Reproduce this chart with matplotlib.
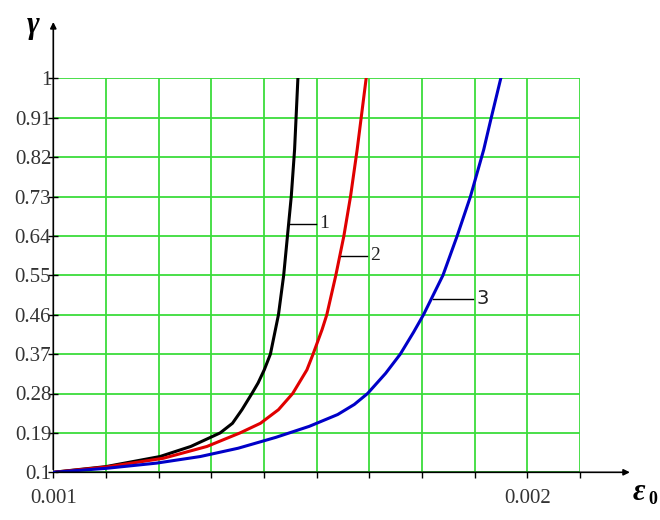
import matplotlib.pyplot as plt
import numpy as np

# strain values in units of 1e-3
black_x = [1.000, 1.111, 1.225, 1.290, 1.352, 1.378, 1.398, 1.419, 1.432, 1.445, 1.458, 1.475, 1.486, 1.494, 1.502, 1.509, 1.516]
black_y = [0.100, 0.113, 0.136, 0.159, 0.190, 0.212, 0.243, 0.280, 0.304, 0.334, 0.370, 0.460, 0.550, 0.640, 0.730, 0.837, 1.000]

red_x = [1.000, 1.111, 1.232, 1.324, 1.394, 1.437, 1.475, 1.505, 1.535, 1.548, 1.567, 1.577, 1.596, 1.613, 1.627, 1.641, 1.660]
red_y = [0.100, 0.112, 0.132, 0.159, 0.190, 0.212, 0.243, 0.280, 0.334, 0.370, 0.426, 0.460, 0.550, 0.640, 0.730, 0.837, 1.000]

blue_x = [1.000, 1.111, 1.218, 1.310, 1.390, 1.470, 1.540, 1.600, 1.635, 1.663, 1.701, 1.732, 1.760, 1.781, 1.822, 1.852, 1.880, 1.908, 1.923, 1.944]
blue_y = [0.100, 0.109, 0.121, 0.136, 0.155, 0.180, 0.205, 0.232, 0.255, 0.280, 0.326, 0.370, 0.420, 0.460, 0.550, 0.640, 0.730, 0.837, 0.906, 1.000]

y_ticks = [0.1, 0.19, 0.28, 0.37, 0.46, 0.55, 0.64, 0.73, 0.82, 0.91, 1.0]
y_labels = ['0.1', '0.19', '0.28', '0.37', '0.46', '0.55', '0.64', '0.73', '0.82', '0.91', '1']

# x grid: 9 steps per 0.001, one extra step past 0.002
x_ticks = [0.001 + k * 0.001 / 9 for k in range(11)]
x_labels = ['0.001', '', '', '', '', '', '', '', '', '0.002', '']

serif = 'Liberation Serif'
grid_green = '#3cdc3c'

fig = plt.figure(figsize=(6.6, 5.2), dpi=100)
ax = fig.add_axes([53.3 / 660, 1 - 472.3 / 520, (580 - 53.3) / 660, (472.3 - 78.3) / 520])

ax.plot(np.array(black_x) * 1e-3, black_y, color='black', lw=2.2, zorder=3)
ax.plot(np.array(red_x) * 1e-3, red_y, color='#e00000', lw=2.2, zorder=3)
ax.plot(np.array(blue_x) * 1e-3, blue_y, color='#0000c8', lw=2.2, zorder=3)

ax.set_xlim(x_ticks[0], x_ticks[-1])
ax.set_ylim(0.1, 1.0)
ax.set_xticks(x_ticks)
ax.set_xticklabels(x_labels, fontfamily=serif, fontsize=15)
ax.set_yticks(y_ticks)
ax.set_yticklabels(y_labels, fontfamily=serif, fontsize=15)
ax.tick_params(axis='x', direction='out', length=4, width=1, pad=8, colors='black')
ax.tick_params(axis='y', direction='inout', length=7, width=1, pad=-2, colors='black')
for lab in ax.get_xticklabels() + ax.get_yticklabels():
    lab.set_color('#333333')

ax.grid(True, color=grid_green, lw=1.3)
ax.set_axisbelow(True)
for s in ax.spines.values():
    s.set_visible(False)

# axis lines with arrow heads
ax.annotate('', xy=(1.10, 0), xytext=(0, 0), xycoords='axes fraction',
            arrowprops=dict(arrowstyle='-|>', color='black', lw=1.2, mutation_scale=9))
ax.annotate('', xy=(0, 1.15), xytext=(0, 0), xycoords='axes fraction',
            arrowprops=dict(arrowstyle='-|>', color='black', lw=1.2, mutation_scale=9))

fig.text(33 / 660, 1 - 26 / 520, 'γ', fontfamily=serif, fontsize=22, fontweight='bold',
         fontstyle='italic', ha='center', va='center')
fig.text(633 / 660, 1 - 492 / 520, 'ε', fontfamily=serif, fontsize=22, fontweight='bold',
         fontstyle='italic', ha='left', va='center')
fig.text(648 / 660, 1 - 499 / 520, '0', fontfamily=serif, fontsize=13, fontweight='bold',
         ha='left', va='center')

# curve labels with leader lines
leaders = [((290, 224), (316, 224), '1', serif),
           ((341, 256), (367, 256), '2', serif),
           ((433, 299), (473, 299), '3', 'DejaVu Sans')]
for (x0, y0), (x1, y1), txt, fam in leaders:
    fig.add_artist(plt.Line2D([x0 / 660, x1 / 660], [1 - y0 / 520, 1 - y1 / 520],
                              color='black', lw=1))
    fig.text((x1 + 3) / 660, 1 - y1 / 520, txt, fontfamily=fam, fontsize=14,
             ha='left', va='center', color='#222222')

plt.savefig('out.png', dpi=100)
plt.close()
